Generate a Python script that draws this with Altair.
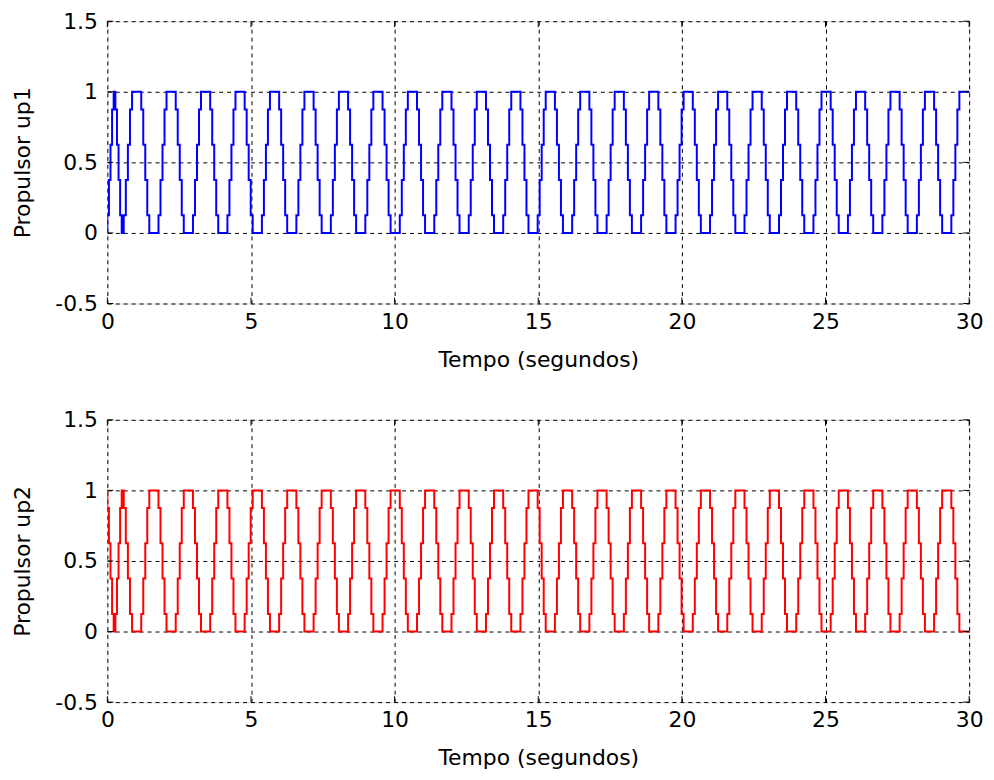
import altair as alt
import pandas as pd

# ---- data ----
# staircase levels used on every ramp between the 0 and 1 plateaus
ramp_levels = [0.125, 0.375, 0.625, 0.875]

# Propulsor up1 (blue): plateaus at 1 and at 0, (start, end) in seconds
up1_top = [(0.22, 0.28), (0.86, 1.18), (2.06, 2.38), (3.26, 3.58), (4.46, 4.78),
           (5.66, 5.98), (6.86, 7.18), (8.06, 8.38), (9.26, 9.58), (10.46, 10.78),
           (11.66, 11.98), (12.86, 13.18), (14.06, 14.38), (15.26, 15.58), (16.46, 16.78),
           (17.66, 17.98), (18.86, 19.18), (20.06, 20.38), (21.26, 21.58), (22.46, 22.78),
           (23.66, 23.98), (24.86, 25.18), (26.06, 26.38), (27.26, 27.58), (28.46, 28.78),
           (29.66, 30.0)]
up1_bottom = [(0.0, 0.0), (0.50, 0.57), (1.46, 1.78), (2.66, 2.98), (3.86, 4.18),
              (5.06, 5.38), (6.26, 6.58), (7.46, 7.78), (8.66, 8.98), (9.86, 10.18),
              (11.06, 11.38), (12.26, 12.58), (13.46, 13.78), (14.66, 14.98), (15.86, 16.18),
              (17.06, 17.38), (18.26, 18.58), (19.46, 19.78), (20.66, 20.98), (21.86, 22.18),
              (23.06, 23.38), (24.26, 24.58), (25.46, 25.78), (26.66, 26.98), (27.86, 28.18),
              (29.06, 29.38)]

# Propulsor up2 (red)
up2_top = [(0.0, 0.0), (0.50, 0.57), (1.46, 1.78), (2.66, 2.98), (3.86, 4.18),
           (5.06, 5.38), (6.26, 6.58), (7.46, 7.78), (8.66, 8.98), (9.86, 10.18),
           (11.06, 11.38), (12.26, 12.58), (13.46, 13.78), (14.66, 14.98), (15.86, 16.18),
           (17.06, 17.38), (18.26, 18.58), (19.46, 19.78), (20.66, 20.98), (21.86, 22.18),
           (23.06, 23.38), (24.26, 24.58), (25.46, 25.78), (26.66, 26.98), (27.86, 28.18),
           (29.06, 29.38)]
up2_bottom = [(0.22, 0.28), (0.86, 1.18), (2.06, 2.38), (3.26, 3.58), (4.46, 4.78),
              (5.66, 5.98), (6.86, 7.18), (8.06, 8.38), (9.26, 9.58), (10.46, 10.78),
              (11.66, 11.98), (12.86, 13.18), (14.06, 14.38), (15.26, 15.58), (16.46, 16.78),
              (17.66, 17.98), (18.86, 19.18), (20.06, 20.38), (21.26, 21.58), (22.46, 22.78),
              (23.66, 23.98), (24.86, 25.18), (26.06, 26.38), (27.26, 27.58), (28.46, 28.78),
              (29.66, 30.0)]

x_ticks = [0, 5, 10, 15, 20, 25, 30]
y_ticks = [-0.5, 0, 0.5, 1, 1.5]
x_title = "Tempo (segundos)"
titles = ["Propulsor up1", "Propulsor up2"]
colors = ["#0000ff", "#ff0000"]
T_END = 30.0


def build(tops, bottoms):
    plateaus = sorted([(s, e, 1.0) for s, e in tops] + [(s, e, 0.0) for s, e in bottoms])
    pts = []
    for i, (s, e, lev) in enumerate(plateaus):
        pts.append((s, lev))
        if i + 1 < len(plateaus):
            ns = plateaus[i + 1][0]
            seq = ramp_levels[::-1] if lev == 1.0 else ramp_levels
            d = (ns - e) / len(seq)
            for k, lv in enumerate(seq):
                pts.append((e + k * d, lv))
    pts.append((T_END, plateaus[-1][2]))
    return pd.DataFrame(pts, columns=["t", "v"])


FONT = "DejaVu Sans"
W, H = 867, 284
TICK = 6

xs = alt.Scale(domain=[0, 30], nice=False, zero=False)
ys = alt.Scale(domain=[-0.5, 1.5], nice=False, zero=False)
xt_df = pd.DataFrame({"t": x_ticks})
yt_df = pd.DataFrame({"v": y_ticks})


def panel(df, color, ytitle):
    common = dict(grid=True, gridColor="black", gridDash=[4, 4], gridWidth=1, gridOpacity=1,
                  ticks=False, domain=False, labelFont=FONT, titleFont=FONT,
                  labelFontSize=22, titleFontSize=22, labelColor="black", titleColor="black",
                  titleFontWeight="normal")
    line = (
        alt.Chart(df)
        .mark_line(interpolate="step-after", color=color, strokeWidth=2, clip=True)
        .encode(
            x=alt.X("t:Q", scale=xs,
                    axis=alt.Axis(values=x_ticks, title=x_title, labelPadding=8,
                                  titlePadding=17, labelFlush=False, **common)),
            y=alt.Y("v:Q", scale=ys,
                    axis=alt.Axis(values=y_ticks, title=ytitle, labelPadding=10,
                                  titlePadding=20, labelExpr="toString(datum.value)", **common)),
        )
    )
    tick_style = dict(color="black", strokeWidth=1)
    xt_bot = alt.Chart(xt_df).mark_rule(**tick_style).encode(
        x=alt.X("t:Q", scale=xs), y=alt.value(H), y2=alt.value(H - TICK))
    xt_top = alt.Chart(xt_df).mark_rule(**tick_style).encode(
        x=alt.X("t:Q", scale=xs), y=alt.value(0), y2=alt.value(TICK))
    yt_l = alt.Chart(yt_df).mark_rule(**tick_style).encode(
        y=alt.Y("v:Q", scale=ys), x=alt.value(0), x2=alt.value(TICK))
    yt_r = alt.Chart(yt_df).mark_rule(**tick_style).encode(
        y=alt.Y("v:Q", scale=ys), x=alt.value(W), x2=alt.value(W - TICK))
    return alt.layer(line, xt_bot, xt_top, yt_l, yt_r).properties(width=W, height=H)


top = panel(build(up1_top, up1_bottom), colors[0], titles[0])
bottom = panel(build(up2_top, up2_bottom), colors[1], titles[1])

chart = (
    alt.vconcat(top, bottom, spacing=37)
    .properties(padding={"left": 11, "top": 7, "right": 10, "bottom": 5})
    .configure_view(stroke="black", strokeWidth=1.2)
    .configure(background="white")
)

chart.save("out.html", embed_options={"renderer": "svg", "actions": False})
